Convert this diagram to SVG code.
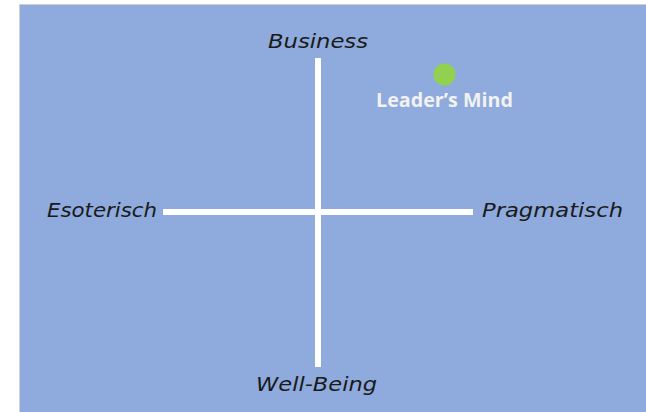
<svg xmlns="http://www.w3.org/2000/svg" width="646" height="412" viewBox="0 0 646 412">
<style>
.axis{font-family:"DejaVu Sans","Liberation Sans",sans-serif;font-size:20px;fill:#1a1a1a;font-style:italic}
.lbl{font-family:"Open Sans","Liberation Sans",sans-serif;font-size:19px;font-weight:bold;fill:#f2f2f2}
.ln{stroke:#ffffff;stroke-width:6;fill:none}
</style>
<rect x="0" y="0" width="646" height="412" fill="#ffffff"/>
<rect x="19.5" y="4.5" width="640" height="420" fill="#8faadc" stroke="#d0d0d0" stroke-width="1"/>
<g id="connectors">
<line class="ln" x1="318" y1="58" x2="318" y2="367"/>
<line class="ln" x1="163" y1="212" x2="473" y2="212"/>
</g>
<g id="business"><text class="axis" x="268" y="48" textLength="100" lengthAdjust="spacingAndGlyphs">Business</text></g>
<g id="esoterisch"><text class="axis" x="47" y="217" textLength="110" lengthAdjust="spacingAndGlyphs">Esoterisch</text></g>
<g id="pragmatisch"><text class="axis" x="482" y="217" textLength="141" lengthAdjust="spacingAndGlyphs">Pragmatisch</text></g>
<g id="wellbeing"><text class="axis" x="256" y="391" textLength="121" lengthAdjust="spacingAndGlyphs">Well-Being</text></g>
<g id="leaders-mind">
<circle cx="444.5" cy="74.5" r="11" fill="#92d050"/>
<text class="lbl" x="376" y="106.5" textLength="137" lengthAdjust="spacingAndGlyphs">Leader’s Mind</text>
</g>
</svg>
